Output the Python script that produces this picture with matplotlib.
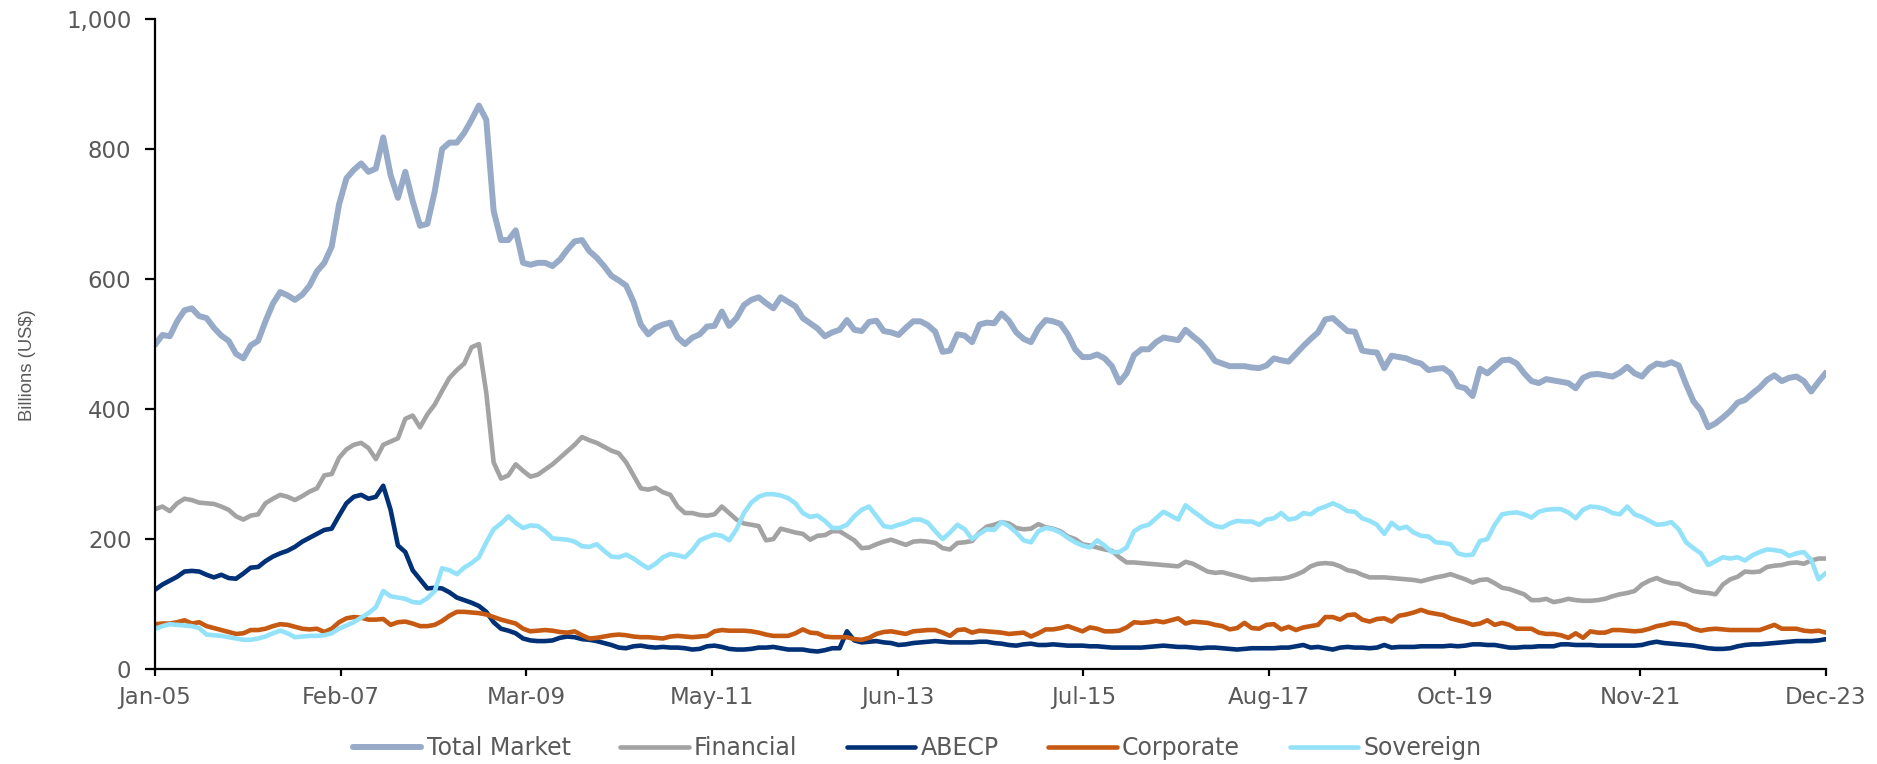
import numpy as np
import matplotlib
matplotlib.use("Agg")
import matplotlib.pyplot as plt
from matplotlib.ticker import FuncFormatter

plt.rcParams['font.family'] = ['DejaVu Sans']

# ---------- Data (monthly, Jan-05 .. Dec-23, US$ billions) ----------
tick_labels = ['Jan-05', 'Feb-07', 'Mar-09', 'May-11', 'Jun-13',
               'Jul-15', 'Aug-17', 'Oct-19', 'Nov-21', 'Dec-23']

total_market = [
    499, 514, 512, 535, 552, 555, 543, 540, 525, 513,
    505, 485, 478, 498, 505, 535, 562, 580, 575, 568,
    576, 590, 612, 625, 650, 715, 755, 768, 778, 765,
    770, 818, 760, 725, 765, 720, 682, 685, 735, 800,
    810, 810, 825, 845, 867, 845, 705, 660, 660, 675,
    625, 622, 625, 625, 620, 630, 645, 658, 660, 643,
    633, 620, 605, 598, 590, 565, 530, 515, 525, 530,
    533, 510, 500, 510, 515, 527, 528, 550, 528, 540,
    560, 568, 572, 563, 555, 572, 565, 558, 540, 532,
    524, 512, 518, 522, 537, 522, 520, 534, 536, 520,
    518, 514, 525, 535, 535, 529, 519, 488, 490, 515,
    513, 503, 530, 533, 532, 547, 536, 518, 508, 503,
    524, 537, 535, 531, 515, 492, 480, 480, 484, 478,
    466, 441, 455, 483, 492, 492, 503, 510, 508, 506,
    522, 512, 503, 490, 474, 470, 466, 466, 466, 464,
    463, 467, 478, 475, 473, 485, 497, 508, 518, 538,
    540, 530, 520, 519, 490, 488, 487, 463, 482, 480,
    478, 473, 470, 460, 462, 463, 455, 435, 432, 420,
    462, 455, 465, 475, 476, 470, 455, 443, 440, 446,
    444, 442, 440, 432, 448, 453, 454, 452, 450, 456,
    465, 455, 450, 463, 470, 468, 472, 467, 438, 412,
    398, 372, 378, 387, 397, 410, 414, 424, 433, 445,
    452, 443, 448, 450, 443, 427, 442, 456,
]

financial = [
    246, 250, 243, 255, 262, 260, 256, 255, 254, 250,
    245, 235, 230, 236, 238, 255, 262, 268, 265, 260,
    266, 273, 278, 298, 300, 325, 338, 345, 348, 340,
    323, 345, 350, 355, 385, 390, 372, 392, 407, 428,
    448, 460, 470, 495, 500, 425, 318, 293, 298, 315,
    305, 296, 299, 307, 315, 325, 335, 345, 357, 352,
    348, 342, 336, 332, 318, 298, 278, 276, 279, 272,
    268, 250, 240, 240, 237, 236, 238, 250, 240, 230,
    224, 222, 220, 198, 200, 216, 213, 210, 208, 199,
    205, 206, 212, 212, 205, 198, 186, 187, 192, 196,
    199, 195, 191, 196, 197, 196, 194, 186, 184, 194,
    195, 197, 210, 219, 222, 226, 224, 217, 215, 216,
    223, 218, 216, 212, 204, 200, 192, 190, 187, 184,
    182, 172, 164, 164, 163, 162, 161, 160, 159, 158,
    165, 162, 156, 150, 148, 149, 146, 143, 140, 137,
    138, 138, 139, 139, 141, 145, 150, 158, 162, 163,
    162, 158, 152, 150, 145, 141, 141, 141, 140, 139,
    138, 137, 135, 138, 141, 143, 146, 142, 138, 133,
    137, 138, 132, 125, 123, 119, 115, 106, 106, 108,
    103, 105, 108, 106, 105, 105, 106, 108, 112, 115,
    117, 120, 130, 136, 140, 135, 132, 131, 125, 120,
    118, 117, 115, 130, 138, 142, 150, 149, 150, 157,
    159, 160, 163, 164, 162, 167, 170, 170,
]

abecp = [
    122, 130, 136, 142, 150, 151, 150, 145, 141, 145,
    140, 139, 147, 156, 157, 166, 173, 178, 182, 188,
    196, 202, 208, 214, 216, 236, 255, 265, 268, 262,
    265, 282, 245, 190, 180, 152, 138, 124, 125, 124,
    118, 110, 106, 102, 97, 88, 72, 62, 59, 55,
    47, 44, 43, 43, 44, 48, 50, 49, 46, 45,
    43, 40, 37, 33, 32, 35, 36, 34, 33, 34,
    33, 33, 32, 30, 31, 35, 36, 34, 31, 30,
    30, 31, 33, 33, 34, 32, 30, 30, 30, 28,
    27, 29, 32, 32, 58, 44, 41, 42, 43, 41,
    40, 37, 38, 40, 41, 42, 43, 42, 41, 41,
    41, 41, 42, 42, 40, 39, 37, 36, 38, 39,
    37, 37, 38, 37, 36, 36, 36, 35, 35, 34,
    33, 33, 33, 33, 33, 34, 35, 36, 35, 34,
    34, 33, 32, 33, 33, 32, 31, 30, 31, 32,
    32, 32, 32, 33, 33, 35, 37, 33, 34, 32,
    30, 33, 34, 33, 33, 32, 33, 37, 33, 34,
    34, 34, 35, 35, 35, 35, 36, 35, 36, 38,
    38, 37, 37, 35, 33, 33, 34, 34, 35, 35,
    35, 38, 38, 37, 37, 37, 36, 36, 36, 36,
    36, 36, 37, 40, 42, 40, 39, 38, 37, 36,
    34, 32, 31, 31, 32, 35, 37, 38, 38, 39,
    40, 41, 42, 43, 43, 43, 44, 46,
]

corporate = [
    69, 70, 70, 72, 75, 70, 72, 66, 63, 60,
    57, 54, 55, 60, 60, 62, 66, 69, 68, 65,
    62, 61, 62, 57, 62, 72, 78, 80, 79, 76,
    76, 77, 68, 72, 73, 70, 66, 66, 68, 74,
    82, 88, 88, 87, 86, 84, 80, 76, 73, 70,
    62, 58, 59, 60, 59, 57, 56, 58, 52, 47,
    48, 50, 52, 53, 52, 50, 49, 49, 48, 47,
    50, 51, 50, 49, 50, 51, 58, 60, 59, 59,
    59, 58, 56, 53, 51, 51, 51, 55, 61, 56,
    55, 50, 49, 49, 49, 46, 45, 48, 54, 57,
    58, 56, 54, 58, 59, 60, 60, 56, 51, 60,
    61, 56, 59, 58, 57, 56, 54, 55, 56, 50,
    55, 61, 61, 63, 66, 62, 58, 64, 62, 58,
    58, 59, 64, 72, 71, 72, 74, 72, 75, 78,
    70, 73, 72, 71, 68, 66, 61, 63, 71, 63,
    62, 68, 69, 61, 65, 60, 64, 66, 68, 80,
    80, 76, 83, 84, 76, 73, 77, 78, 73, 82,
    84, 87, 91, 87, 85, 83, 78, 75, 72, 68,
    70, 75, 68, 71, 68, 62, 62, 62, 56, 54,
    54, 52, 48, 55, 48, 58, 56, 56, 60, 60,
    59, 58, 59, 62, 66, 68, 71, 70, 68, 62,
    59, 61, 62, 61, 60, 60, 60, 60, 60, 64,
    68, 62, 62, 62, 59, 58, 59, 56,
]

sovereign = [
    62, 66, 69, 68, 67, 66, 63, 53, 52, 51,
    49, 47, 45, 45, 47, 50, 55, 59, 55, 49,
    50, 51, 51, 52, 55, 62, 67, 72, 79, 86,
    95, 120, 112, 110, 108, 103, 102, 109, 120, 155,
    152, 146, 156, 163, 172, 195, 215, 224, 235, 225,
    217, 221, 220, 212, 201, 200, 199, 196, 189, 188,
    192, 182, 173, 172, 176, 170, 162, 155, 162, 172,
    177, 175, 172, 183, 198, 203, 207, 205, 198, 215,
    240, 256, 265, 269, 269, 267, 263, 255, 240, 234,
    236, 228, 217, 217, 222, 235, 245, 250, 235, 220,
    218, 222, 225, 230, 230, 225, 212, 200, 210, 222,
    215, 200, 208, 215, 214, 226, 220, 210, 198, 195,
    212, 217, 215, 210, 202, 195, 190, 187, 198, 190,
    180, 180, 187, 212, 219, 222, 232, 242, 236, 230,
    252, 243, 235, 226, 220, 218, 224, 228, 227, 227,
    222, 230, 232, 240, 230, 232, 240, 238, 246, 250,
    255, 250, 243, 242, 232, 228, 222, 208, 225, 216,
    219, 210, 205, 204, 195, 194, 192, 178, 175, 176,
    197, 200, 222, 238, 240, 241, 238, 233, 242, 245,
    246, 246, 241, 232, 245, 250, 249, 246, 240, 238,
    250, 238, 234, 228, 222, 223, 226, 215, 195, 186,
    178, 160, 166, 172, 170, 172, 167, 175, 180, 184,
    183, 181, 174, 178, 180, 168, 138, 148,
]

series = [
    ('Total Market', total_market, '#97abc8', 4.3),
    ('Financial', financial, '#a3a3a3', 3.3),
    ('ABECP', abecp, '#003075', 3.3),
    ('Corporate', corporate, '#c65a12', 3.3),
    ('Sovereign', sovereign, '#93e2fa', 3.3),
]

# ---------- Plot ----------
fig = plt.figure(figsize=(18.77, 7.64), dpi=100)
ax = fig.add_axes([0.0826, 0.1243, 0.8902, 0.8507])

x = np.arange(len(total_market))
for name, vals, color, lw in series:
    ax.plot(x, vals, color=color, linewidth=lw, label=name,
            solid_joinstyle='round', solid_capstyle='round')

ax.set_xlim(0, len(total_market) - 1)
ax.set_ylim(0, 1000)
ax.set_xticks(np.linspace(0, len(total_market) - 1, len(tick_labels)))
ax.set_xticklabels(tick_labels)
ax.set_yticks(np.arange(0, 1001, 200))
ax.yaxis.set_major_formatter(FuncFormatter(lambda v, p: f'{int(v):,}'))

for side in ['top', 'right']:
    ax.spines[side].set_visible(False)
for side in ['left', 'bottom']:
    ax.spines[side].set_linewidth(1.6)
    ax.spines[side].set_color('black')

ax.tick_params(axis='both', direction='out', width=1.6, colors='black',
               labelcolor='#595959', labelsize=16.5)
ax.tick_params(axis='y', length=7, pad=10)
ax.tick_params(axis='x', length=5, pad=7)

ax.set_ylabel('Billions (US$)', color='#595959', fontsize=13.3,
              family='Liberation Sans')
ax.yaxis.set_label_coords(-0.071, 0.468)

leg = fig.legend(loc='center', bbox_to_anchor=(0.4886, 0.021), ncol=5,
                 frameon=False, fontsize=17, handlelength=2.9,
                 handletextpad=0.22, columnspacing=2.1)
for t in leg.get_texts():
    t.set_color('#595959')

fig.savefig('out.png', dpi=100)
